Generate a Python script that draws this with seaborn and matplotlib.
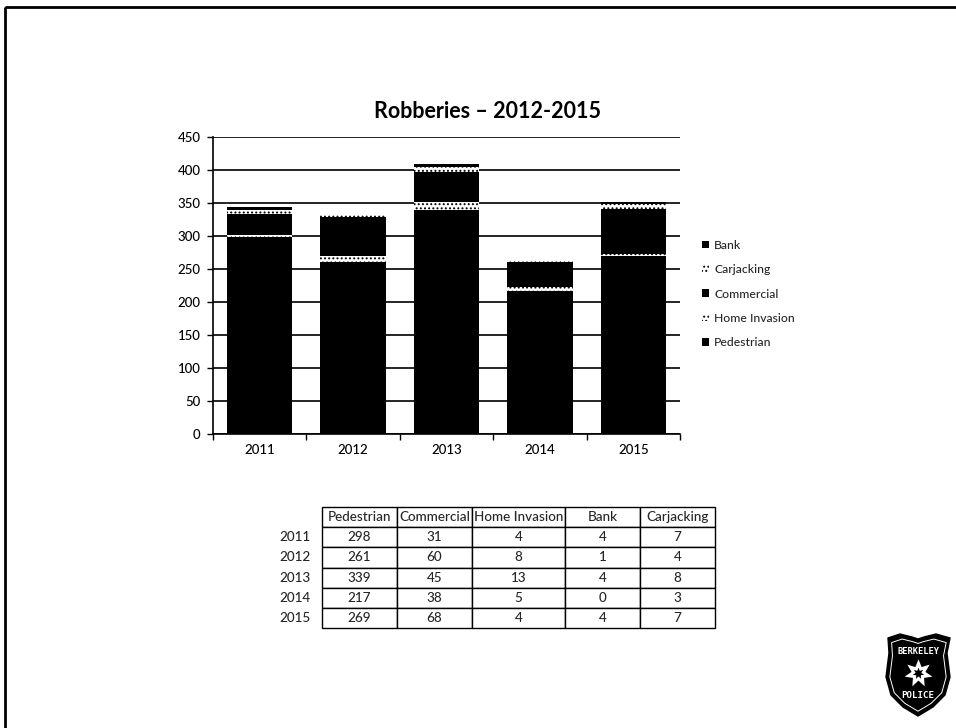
"""Robberies by type, stacked bars with the counts table below."""

import matplotlib.pyplot as plt
import seaborn as sns
from matplotlib.patches import Polygon, Rectangle

# ── Data ─────────────────────────────────────────────────────────────────────
YEARS = ["2011", "2012", "2013", "2014", "2015"]
PEDESTRIAN = [298, 261, 339, 217, 269]
COMMERCIAL = [31, 60, 45, 38, 68]
HOME_INVASION = [4, 8, 13, 5, 4]
BANK = [4, 1, 4, 0, 4]
CARJACKING = [7, 4, 8, 3, 7]

TABLE_COLUMNS = ["Pedestrian", "Commercial", "Home Invasion", "Bank", "Carjacking"]
TABLE_VALUES = [PEDESTRIAN, COMMERCIAL, HOME_INVASION, BANK, CARJACKING]

# stack order, bottom to top; True means the speckled scan texture
STACK = [
    ("Pedestrian", PEDESTRIAN, False),
    ("Home Invasion", HOME_INVASION, True),
    ("Commercial", COMMERCIAL, False),
    ("Carjacking", CARJACKING, True),
    ("Bank", BANK, False),
]
LEGEND_ORDER = ["Bank", "Carjacking", "Commercial", "Home Invasion", "Pedestrian"]
Y_TICKS = [0, 50, 100, 150, 200, 250, 300, 350, 400, 450]

W, H = 956, 728


def px_axes(fig, left, top, right, bottom, **kwargs):
    """Add axes from pixel edges measured on the reference."""
    return fig.add_axes(
        [left / W, 1 - bottom / H, (right - left) / W, (bottom - top) / H], **kwargs
    )


sns.set_theme(style="white")
plt.rcParams["font.family"] = ["Lato", "DejaVu Sans"]
plt.rcParams["font.weight"] = "medium"
plt.rcParams["hatch.linewidth"] = 0.9

fig = plt.figure(figsize=(W / 100, H / 100), dpi=100, facecolor="white")

# ── Slide frame ──────────────────────────────────────────────────────────────
frame = fig.add_axes([0, 0, 1, 1], zorder=-1)
frame.set_xlim(0, W)
frame.set_ylim(H, 0)
frame.axis("off")
frame.add_patch(Rectangle((5.5, 7), W + 10, H + 10, fill=False, edgecolor="black", linewidth=2))

# ── Stacked bars ─────────────────────────────────────────────────────────────
ax = px_axes(fig, 213, 137, 680, 434)
running = [0] * len(YEARS)
handles = {}
for name, values, speckled in STACK:
    sns.barplot(
        x=YEARS, y=values, bottom=running, color="black", saturation=1,
        width=0.7, ax=ax, zorder=3,
    )
    new_bars = ax.patches[-len(YEARS):]
    for bar in new_bars:
        bar.set_linewidth(0)
        if speckled:
            bar.set_facecolor("white")
            bar.set_edgecolor("black")
            bar.set_hatch("....")
    handles[name] = new_bars[0]
    running = [a + b for a, b in zip(running, values)]

ax.set_ylim(0, 450)
ax.set_xlim(-0.5, 4.5)
ax.set_yticks(Y_TICKS)
ax.yaxis.grid(True, color="black", linewidth=1.2)
ax.set_axisbelow(True)
ax.set_xlabel("")
ax.set_ylabel("")
ax.tick_params(axis="both", labelsize=9.5, length=4, width=1, color="black",
               labelcolor="black", left=True, pad=5)
# year ticks sit between the bars, labels stay centred under them
ax.set_xticks([i - 0.5 for i in range(len(YEARS) + 1)], minor=True)
ax.tick_params(axis="x", which="major", bottom=False, pad=3)
ax.tick_params(axis="x", which="minor", bottom=True, length=4, width=1, color="black")
for side in ["top", "right"]:
    ax.spines[side].set_visible(False)
for side in ["left", "bottom"]:
    ax.spines[side].set_color("black")
    ax.spines[side].set_linewidth(1.2)

fig.text(488 / W, 1 - 111 / H, "Robberies – 2012-2015", ha="center", va="center",
         fontsize=15.5, fontweight="bold", color="black")

ax.legend(
    [handles[n] for n in LEGEND_ORDER], LEGEND_ORDER,
    loc="center left", bbox_to_anchor=(702 / W, 1 - 294 / H),
    bbox_transform=fig.transFigure, frameon=False, fontsize=8.7,
    handlelength=0.6, handleheight=0.6, handletextpad=0.4, labelspacing=1.1,
    borderpad=0, borderaxespad=0,
)

# ── Counts table ─────────────────────────────────────────────────────────────
tab_ax = px_axes(fig, 268, 507, 715, 628)
tab_ax.axis("off")
rows = [[""] + TABLE_COLUMNS]
for i, year in enumerate(YEARS):
    rows.append([year] + [str(col[i]) for col in TABLE_VALUES])
col_px = [54, 75, 75, 93, 75, 75]
table = tab_ax.table(
    cellText=rows, cellLoc="center", bbox=[0, 0, 1, 1],
    colWidths=[c / sum(col_px) for c in col_px],
)
table.auto_set_font_size(False)
table.set_fontsize(9.7)
for (r, c), cell in table.get_celld().items():
    cell.set_linewidth(1)
    cell.set_edgecolor("black")
    cell.PAD = 0.02
    if c == 0:
        cell.set_linewidth(0)

# ── Badge ────────────────────────────────────────────────────────────────────
badge = px_axes(fig, 870, 620, 956, 728)
badge.set_xlim(870, 956)
badge.set_ylim(728, 620)
badge.axis("off")
outline = [(888, 638), (900, 634), (912, 637), (918, 639), (924, 637), (936, 634),
           (950, 638), (947, 653), (950, 677), (945, 695), (933, 707), (918, 716),
           (903, 707), (891, 695), (886, 677), (889, 653)]
inner = [(918 + (x - 918) * 0.88, 676 + (y - 676) * 0.88) for x, y in outline]
badge.add_patch(Polygon(outline, closed=True, facecolor="black", edgecolor="black"))
badge.add_patch(Polygon(inner, closed=True, fill=False, edgecolor="white", linewidth=0.7))
badge.text(918, 652, "BERKELEY", color="white", fontsize=6.3, fontweight="bold",
           ha="center", va="center", family="DejaVu Sans Mono")
badge.text(918, 695, "POLICE", color="white", fontsize=6.6, fontweight="bold",
           ha="center", va="center", family="DejaVu Sans Mono")
badge.scatter([918], [673], marker=(7, 1), s=420, color="white", linewidths=0)
badge.scatter([918], [673], marker=(7, 1), s=70, color="black", linewidths=0)

fig.savefig("out.png", dpi=100, facecolor="white")
